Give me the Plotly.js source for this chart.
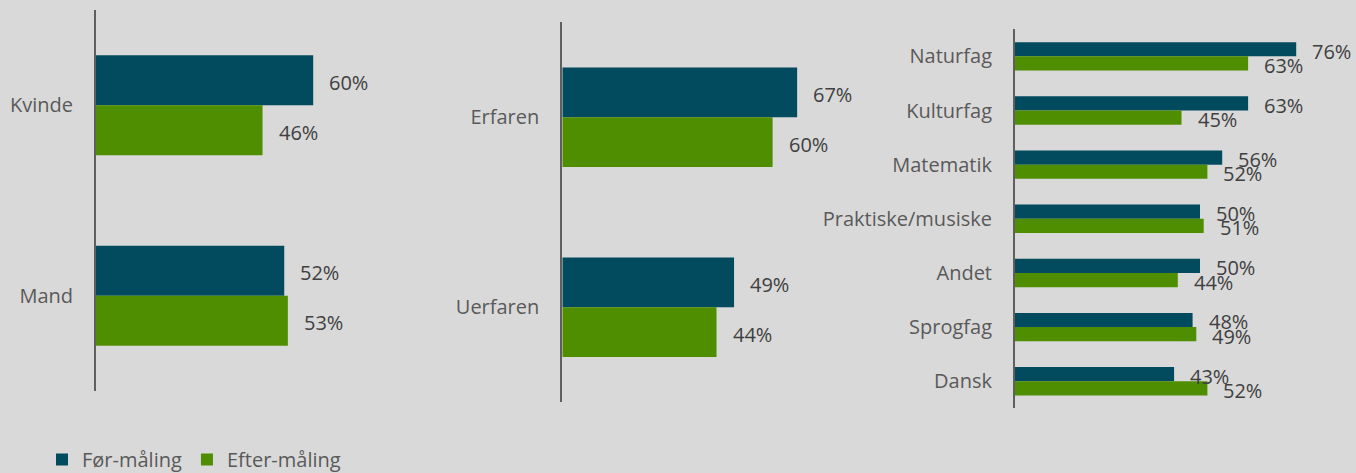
<!DOCTYPE html>
<html>
<head>
<meta charset="utf-8">
<script src="https://cdn.plot.ly/plotly-3.0.1.min.js"></script>
<style>
html,body{margin:0;padding:0;background:#d9d9d9;}
#chart{width:1356px;height:473px;}
</style>
</head>
<body>
<div id="chart"></div>
<script>
// ---- data ----
const seriesNames = ['Før-måling', 'Efter-måling'];

const genderCats = ['Kvinde', 'Mand'];
const genderFoer = [60, 52];
const genderEfter = [46, 53];

const expCats = ['Erfaren', 'Uerfaren'];
const expFoer = [67, 49];
const expEfter = [60, 44];

const subjCats = ['Naturfag', 'Kulturfag', 'Matematik', 'Praktiske/musiske', 'Andet', 'Sprogfag', 'Dansk'];
const subjFoer = [76, 63, 56, 50, 50, 48, 43];
const subjEfter = [63, 45, 52, 51, 44, 49, 52];

// ---- layout / style ----
const W = 1356, H = 473;
const colors = ['#024b5e', '#4e8e00'];
const BARGAP = 0.476;
const FONT = 'Open Sans, sans-serif';

const panels = [
  {cats: genderCats, vals: [genderFoer, genderEfter], x0: 96, y0: 10, y1: 391, scale: 3.62, xmax: 80},
  {cats: expCats, vals: [expFoer, expEfter], x0: 562.3, y0: 22.3, y1: 402.3, scale: 3.505, xmax: 80},
  {cats: subjCats, vals: [subjFoer, subjEfter], x0: 1015, y0: 29.3, y1: 408.3, scale: 3.70, xmax: 90}
];

const traces = [];
const annotations = [];
const layout = {
  width: W, height: H,
  margin: {l: 0, r: 0, t: 0, b: 0, autoexpand: false},
  paper_bgcolor: '#d9d9d9',
  plot_bgcolor: '#d9d9d9',
  barmode: 'group',
  bargap: BARGAP,
  bargroupgap: 0,
  font: {family: FONT, size: 20, color: '#595959'},
  showlegend: true,
  legend: {
    orientation: 'h',
    x: 42 / W, xanchor: 'left',
    y: 1 - 440 / H, yanchor: 'top',
    font: {family: FONT, size: 20, color: '#595959'},
    bgcolor: 'rgba(0,0,0,0)',
    traceorder: 'normal'
  },
  annotations: annotations
};

const off = (1 - BARGAP) / 4;

panels.forEach((p, i) => {
  const sfx = i === 0 ? '' : String(i + 1);
  const xa = 'xaxis' + sfx, ya = 'yaxis' + sfx;
  const width = p.xmax * p.scale;
  layout[xa] = {
    domain: [p.x0 / W, (p.x0 + width) / W],
    range: [0, p.xmax],
    visible: false,
    anchor: 'y' + sfx,
    fixedrange: true
  };
  layout[ya] = {
    domain: [1 - p.y1 / H, 1 - p.y0 / H],
    type: 'category',
    autorange: 'reversed',
    anchor: 'x' + sfx,
    showline: true,
    linecolor: '#5f5f5f',
    linewidth: 2,
    showgrid: false,
    zeroline: false,
    ticks: '',
    ticklabelstandoff: 17,
    tickfont: {family: FONT, size: 20, color: '#595959'},
    fixedrange: true
  };
  p.vals.forEach((v, t) => {
    traces.push({
      type: 'bar',
      orientation: 'h',
      name: seriesNames[t],
      x: v,
      y: p.cats,
      xaxis: 'x' + sfx,
      yaxis: 'y' + sfx,
      marker: {color: colors[t], line: {width: 0}},
      showlegend: i === 0,
      legendgroup: seriesNames[t],
      hoverinfo: 'none'
    });
    v.forEach((val, j) => {
      annotations.push({
        xref: 'x' + sfx, yref: 'y' + sfx,
        x: val,
        y: j + (t === 0 ? -off : off),
        text: val + '%',
        showarrow: false,
        xanchor: 'left', yanchor: 'middle',
        xshift: 14, yshift: -2,
        font: {family: FONT, size: 20, color: '#404040'}
      });
    });
  });
});

Plotly.newPlot('chart', traces, layout, {staticPlot: true, displayModeBar: false});
</script>
</body>
</html>
